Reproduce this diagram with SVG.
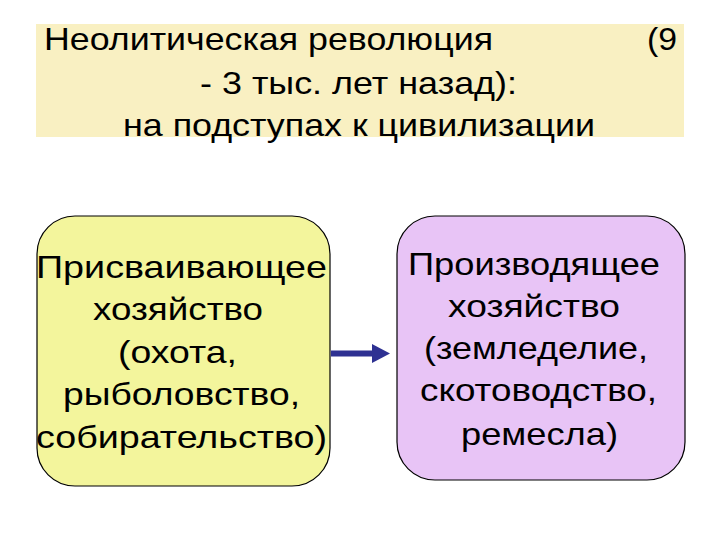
<svg xmlns="http://www.w3.org/2000/svg" width="720" height="540" viewBox="0 0 720 540">
<style>
  text { font-family: "Liberation Sans", Arial, sans-serif; font-size: 32px; fill: #000; }
  .box { stroke: #000; stroke-width: 1.2; }
</style>
<defs>
  <marker id="ah" markerUnits="userSpaceOnUse" markerWidth="20" markerHeight="20" refX="0" refY="9.5" orient="auto">
    <path d="M0,0 L18,9.5 L0,19 z" fill="#2E3192"/>
  </marker>
</defs>
<rect width="720" height="540" fill="#fff"/>
<g id="title">
  <rect x="36" y="24" width="648" height="113" fill="#F9F0C2"/>
  <text x="44" y="50" textLength="449" lengthAdjust="spacingAndGlyphs">Неолитическая революция</text>
  <text x="647" y="50" textLength="30" lengthAdjust="spacingAndGlyphs">(9</text>
  <text x="200" y="94" textLength="317" lengthAdjust="spacingAndGlyphs">- 3 тыс. лет назад):</text>
  <text x="123" y="136" textLength="472" lengthAdjust="spacingAndGlyphs">на подступах к цивилизации</text>
</g>
<g id="appropriating">
  <rect class="box" x="37" y="216" width="293" height="270" rx="38" ry="38" fill="#F3F59C"/>
  <text x="36" y="278" textLength="291" lengthAdjust="spacingAndGlyphs">Присваивающее</text>
  <text x="93" y="320" textLength="170" lengthAdjust="spacingAndGlyphs">хозяйство</text>
  <text x="118" y="363" textLength="119" lengthAdjust="spacingAndGlyphs">(охота,</text>
  <text x="63" y="405" textLength="237" lengthAdjust="spacingAndGlyphs">рыболовство,</text>
  <text x="36" y="448" textLength="291" lengthAdjust="spacingAndGlyphs">собирательство)</text>
</g>
<g id="producing">
  <rect class="box" x="397" y="216" width="288" height="264" rx="38" ry="38" fill="#E8C4F6"/>
  <text x="408" y="275" textLength="252" lengthAdjust="spacingAndGlyphs">Производящее</text>
  <text x="448" y="317" textLength="172" lengthAdjust="spacingAndGlyphs">хозяйство</text>
  <text x="424" y="359" textLength="224" lengthAdjust="spacingAndGlyphs">(земледелие,</text>
  <text x="420" y="401" textLength="237" lengthAdjust="spacingAndGlyphs">скотоводство,</text>
  <text x="461" y="445" textLength="157" lengthAdjust="spacingAndGlyphs">ремесла)</text>
</g>
<g id="connectors">
  <line x1="331" y1="353.5" x2="372" y2="353.5" stroke="#2E3192" stroke-width="6" marker-end="url(#ah)"/>
</g>
</svg>
